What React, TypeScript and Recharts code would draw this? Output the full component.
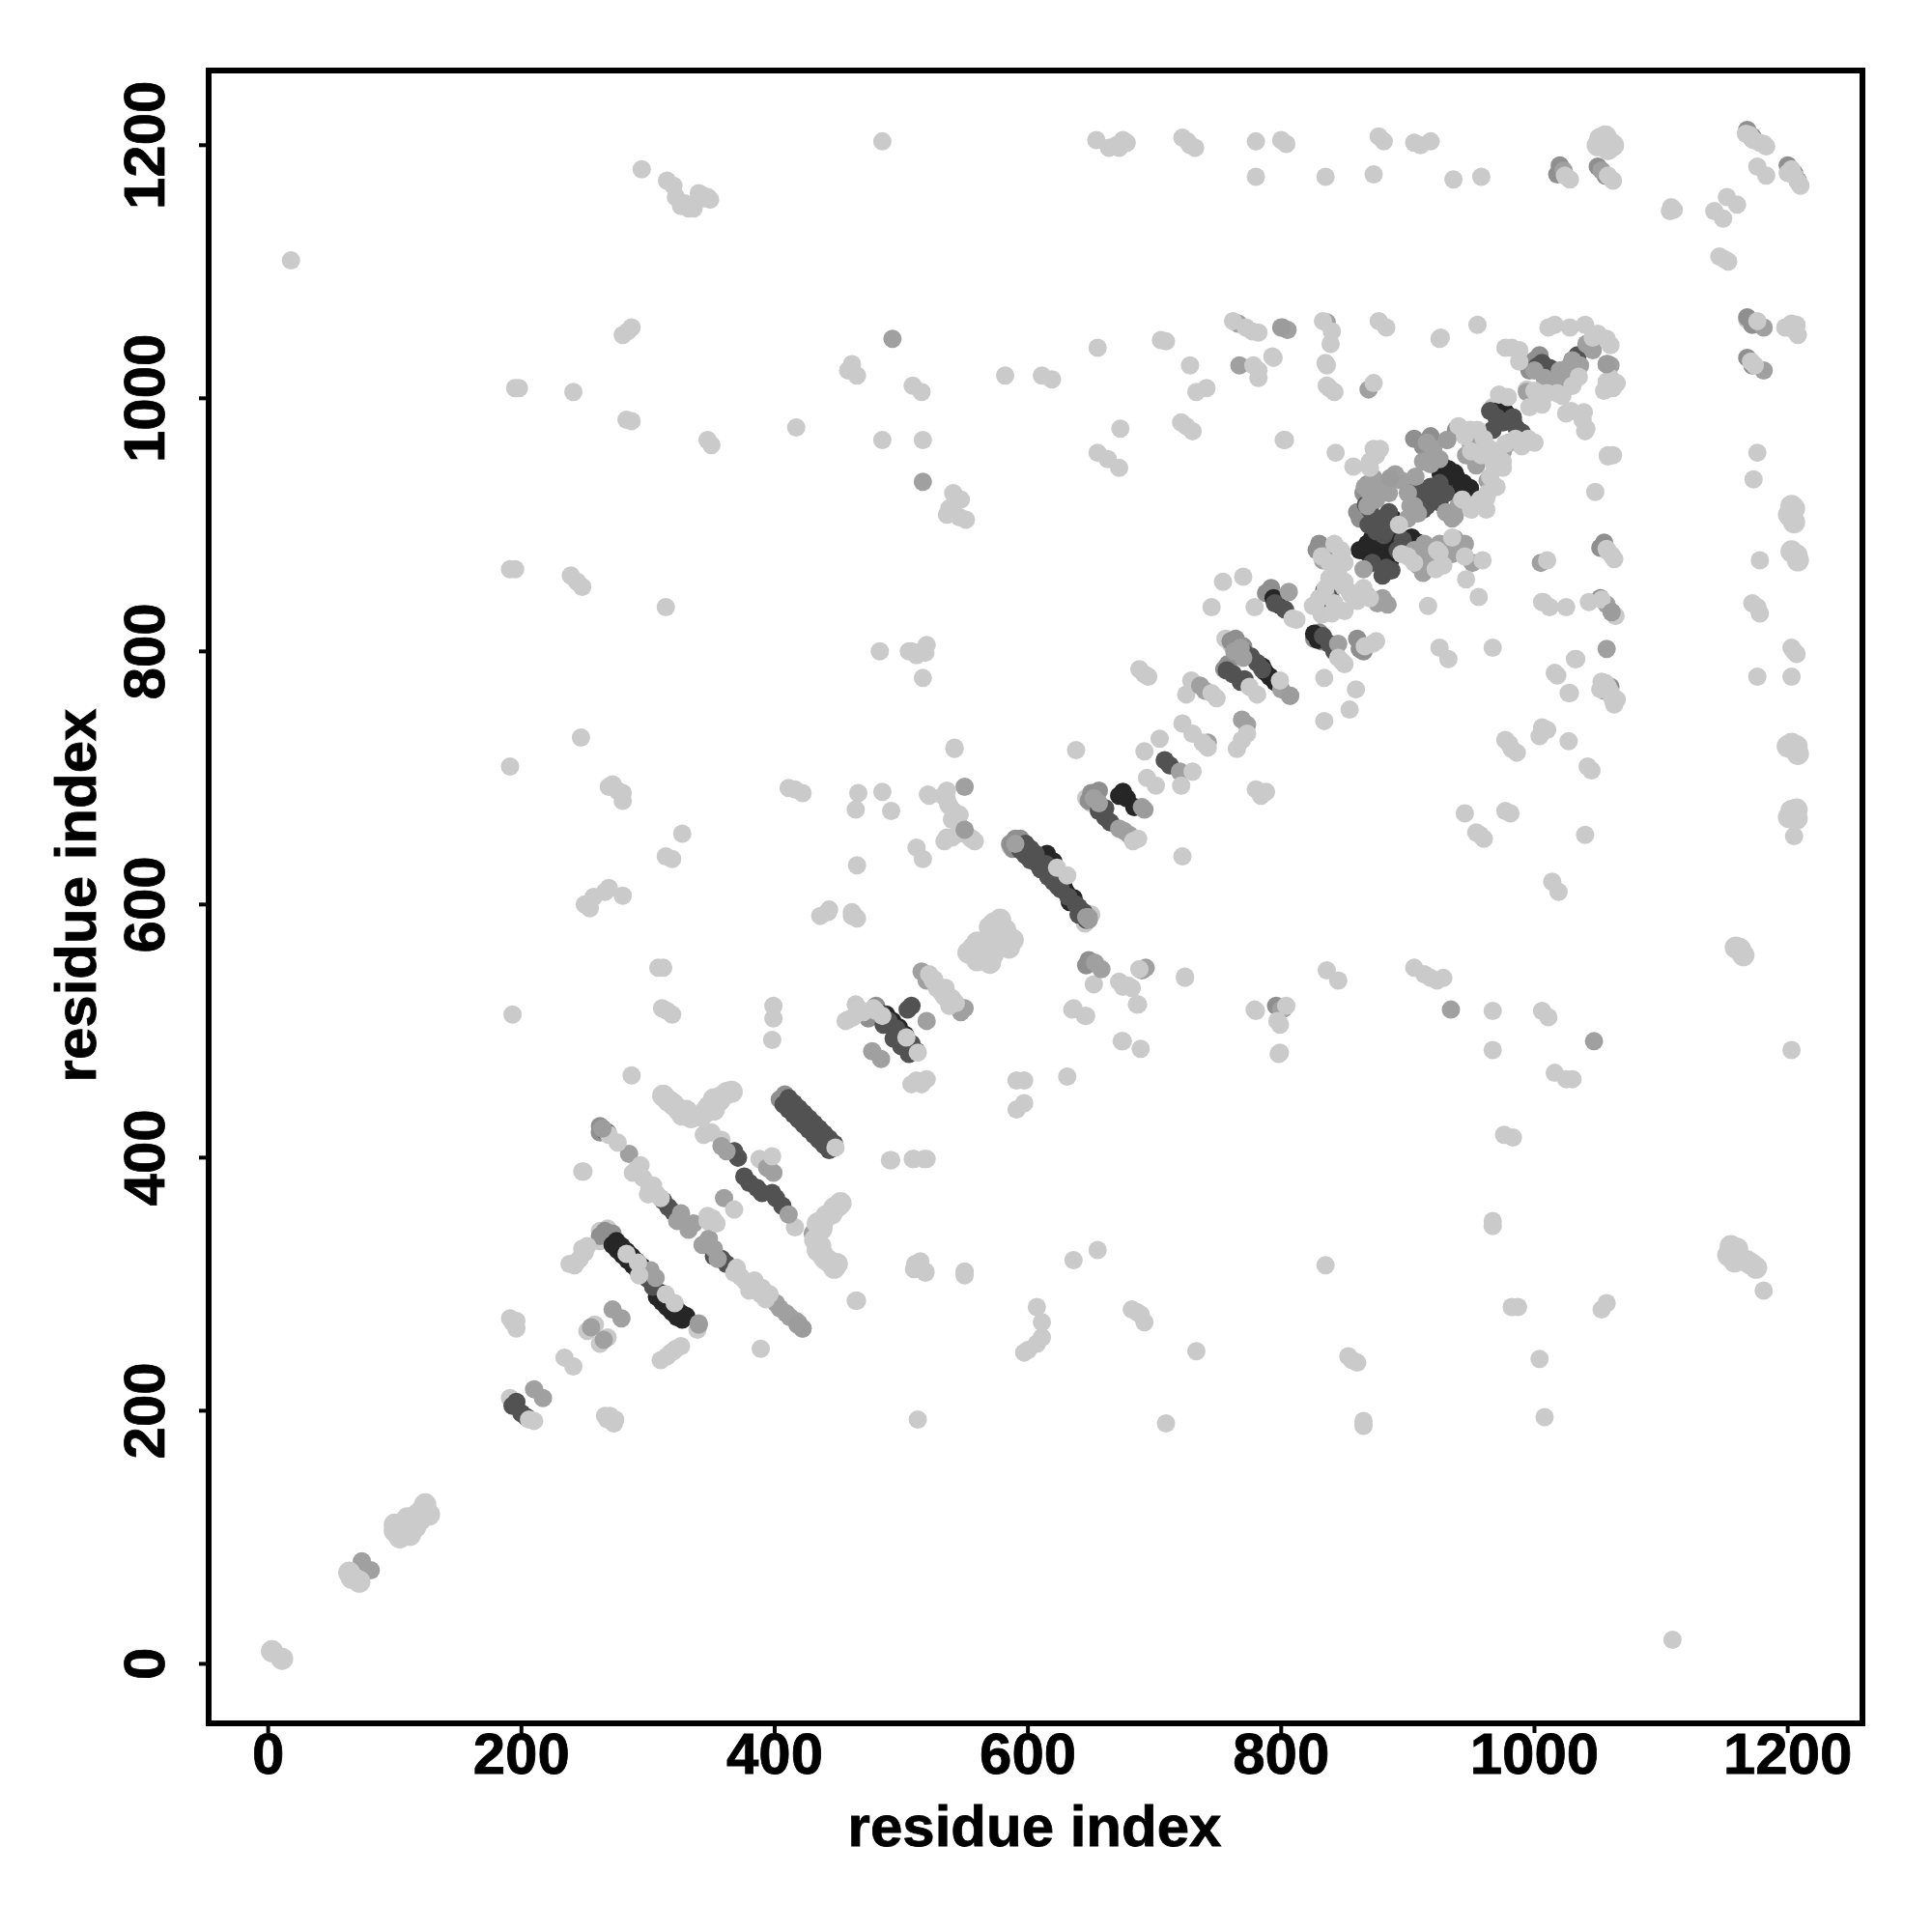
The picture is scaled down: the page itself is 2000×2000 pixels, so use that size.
import React from "react";
import { ScatterChart, Scatter, XAxis, YAxis, ReferenceArea, Label } from "recharts";

const xTicks = [0, 200, 400, 600, 800, 1000, 1200];
const yTicks = [0, 200, 400, 600, 800, 1000, 1200];
const xLow = -47;
const xHigh = 1259;
const yLow = -47;
const yHigh = 1259;

type P = [number, number];

const lightBack: P[] = [
  [262,342],[264,340],[266,340],[250,325],[246,320],[242,315],[344,418],[416,345],[388,399],
  [652,688],[652,537],[536,653],[464,521],[458,509],[994,1007],[967,993],[949,975],[916,959],
  [873,960],[834,880],[844,852],[854,847],[832,829],[725,766],[729,777],[692,721],[704,731],
  [722,743],[764,805],[760,786],[191,210],[516,800],[506,800],[1018,781],[1016,783],
  [252,263],[262,253],[258,268],[268,258],[262,334],[268,344],[350,420],[358,414],
  [590,651],[586,646],[645,585],[650,592],[650,680],[646,684],[756,810],[760,806],[1168,1062],
];

const midBack: P[] = [
  [262,338],[266,342],[272,340],[262,425],[268,420],[262,420],[408,450],[404,446],[648,556],[646,552],
  [590,652],[586,648],[594,652],[588,644],[650,688],[648,682],[656,690],[760,808],[764,810],[770,804],
  [758,790],[755,786],[862,905],[860,910],[865,925],[868,932],[905,968],[912,962],[918,970],[938,975],
  [1000,1030],[996,1022],[1004,1034],[1052,882],[1055,886],[1052,842],[1054,772],[1060,772],[1168,1064],
  [1172,1058],[1168,1032],[1172,1026],[1208,1172],[1020,1184],[1018,1177],[1050,1183],[1056,1176],
  [480,520],[476,516],[474,510],[830,815],[826,810],[832,808],[830,885],[828,880],[792,850],[788,846],
  [1168,1212],[1172,1207],[1200,1184],[1205,1178],[860,810],[862,802],[865,800],[802,518],[796,520],
];

const blackPoints: P[] = [
  [272,331],[275,334],[276,327],[279,330],[280,323],[283,326],[284,319],[287,322],[288,315],[291,318],
  [292,311],[295,314],[307,290],[310,293],[311,286],[314,289],[315,282],[318,285],[319,278],[322,281],
  [323,274],[326,277],[327,272],[330,275],
  [926,940],[929,945],[932,944],[937,941],[938,938],[942,930],[944,933],[947,925],[949,929],[928,932],
  [977,989],[980,985],[974,992],[983,982],[862,880],[868,878],[868,885],[872,880],[872,890],[876,884],
  [880,888],[884,880],[884,882],[886,872],[878,874],[890,892],[888,905],[892,900],[903,890],[908,886],
  [798,837],[794,842],[791,780],[795,776],[787,784],[785,788],[612,636],[615,640],[608,632],[620,634],
  [623,626],[630,610],[636,605],[633,602],[628,615],[675,689],[678,684],[672,686],[684,677],[881,870],
  [875,875],[829,809],[826,814],[275,333],[503,497],[498,503],[493,508],[488,513],
];

const darkPoints: P[] = [
  [407,442],[411,447],[411,438],[415,443],[415,434],[419,439],[419,430],[423,435],[423,426],[427,431],
  [427,422],[431,427],[431,418],[435,423],[435,414],[439,419],[439,410],[443,415],[443,406],[447,411],
  [594,643],[598,648],[598,639],[602,644],[602,635],[606,640],[610,628],[614,632],[616,622],[620,618],
  [624,614],[626,612],[632,606],[638,600],[640,598],[644,594],[640,592],[646,588],
  [296,308],[300,304],[304,298],[266,421],[316,361],[312,366],[320,357],[352,322],[358,320],[362,316],
  [371,400],[368,405],[376,385],[380,380],[386,376],[390,372],[401,368],[406,362],[398,372],
  [656,674],[661,669],[665,665],[661,676],[708,714],[712,710],[781,791],[785,786],[776,796],[770,800],
  [484,514],[490,508],[496,502],[502,496],[508,490],[512,484],[506,482],[500,488],[494,494],[486,505],
  [925,933],[913,923],[918,928],[905,930],[910,920],[918,930],[915,915],[920,925],[925,918],[912,912],
  [930,925],[867,916],[870,912],[883,866],[880,860],[887,864],[872,870],[892,880],[896,888],[913,870],
  [967,975],[965,990],[970,985],[975,981],[978,982],[983,985],[986,976],[990,973],[1002,1025],[1008,1020],
  [1014,1016],[1006,1028],[1012,1024],[1018,1020],[1034,1034],[1030,1030],[837,844],[834,848],[840,840],
  [196,207],[193,204],[204,195],[200,198],[508,520],[505,517],[771,778],[881,892],[895,882],
  [833,812],[838,806],[842,800],[757,785],[762,782],[768,776],[795,838],[803,833],[869,900],[875,895],
  [880,905],[885,910],[888,900],[882,895],[906,880],
];

const midPoints: P[] = [
  [74,81],[81,74],[210,217],[217,210],[255,266],[265,256],[272,280],[279,273],[264,423],[285,403],
  [323,350],[326,356],[332,343],[336,348],[343,331],[348,336],[355,320],[352,328],[401,285],[404,281],
  [409,277],[412,274],[417,271],[422,265],[419,269],[302,311],[340,269],[306,305],
  [360,368],[399,388],[394,392],[358,409],[362,405],[411,355],[430,340],[477,484],[484,478],[520,508],
  [516,547],[520,540],[550,693],[548,660],[549,659],[545,664],[547,515],[544,520],[550,518],[590,648],
  [648,590],[652,684],[656,680],[672,660],[680,655],[676,658],[658,549],[653,554],[693,550],[690,548],
  [720,705],[742,728],[740,769],[736,773],[773,742],[769,746],[800,517],[807,765],[767,1026],[801,1056],
  [805,1054],[766,1059],[836,1060],[869,1007],[1041,1043],[1046,1038],[1058,1027],[1057,1027],[1181,1056],
  [1181,1022],[1053,1180],[1023,1180],[1172,1205],[931,967],[946,955],[954,947],[956,968],[950,963],[906,938],
  [937,907],[908,909],[902,915],[967,931],[963,935],[888,937],[873,937],[880,930],[885,925],[875,920],
  [870,925],[890,940],[895,935],[900,925],[905,915],[900,905],[930,910],[935,905],[940,915],[913,885],
  [937,889],[935,877],[930,875],[940,880],[865,865],[951,870],[806,847],[880,842],[884,837],[868,844],
  [876,838],[845,806],[1057,802],[1055,769],[1061,831],[1005,870],[934,517],[1047,492],[517,934],[493,1047],
  [994,1005],[1030,1030],[1020,1022],[1000,1022],[1008,1016],[1016,1012],[1024,1012],[1028,1010],[1030,1016],
  [1026,1024],[1022,1016],[1012,1012],[915,965],[920,960],[912,950],[918,948],[925,952],[1036,1026],
  [836,876],[833,872],[835,845],[905,880],[915,880],[920,872],[925,885],[945,885],[908,868],[912,862],
  [866,930],[868,915],[975,958],[980,965],[763,800],[768,803],[800,770],[770,795],[1057,837],[1060,1026],
];

const lightFront: P[] = [
  [18,1109],[1109,19],[210,192],[206,193],[191,273],[196,265],[193,270],[196,271],[266,196],[273,190],[268,193],
  [270,196],[274,193],[234,242],[241,235],[249,389],[269,418],[276,412],[291,391],[301,376],[307,371],
  [294,394],[288,388],[296,384],[304,378],[300,371],[310,368],[368,309],[381,299],[389,292],[373,306],
  [377,302],[385,296],[393,288],[370,313],[384,303],[390,297],[396,292],[380,295],
  [283,324],[292,317],[293,307],[314,292],[321,285],[339,264],[287,465],[448,408],[491,398],[509,399],
  [518,399],[513,193],[347,354],[354,348],[347,350],[351,352],[368,359],[398,401],
  [465,287],[513,316],[519,309],[510,312],[515,318],[389,249],[315,243],[320,247],[326,251],[318,246],
  [322,249],[310,240],[252,330],[248,328],[244,318],[238,316],[512,461],[508,458],[520,462],[516,458],
  [483,800],[520,805],[517,779],[542,724],[485,689],[521,687],[492,674],[536,683],[541,674],[555,652],
  [536,690],[533,686],[538,678],[544,668],[546,671],[552,655],[558,650],[534,650],[540,653],[545,656],
  [512,645],[517,636],[465,631],[442,594],[461,594],[464,590],[623,629],[631,623],[530,535],[525,540],[537,528],
  [522,545],[526,541],[528,534],[532,530],[535,534],[540,526],[543,522],[534,527],[538,520],[480,516],
  [513,483],[504,495],[485,512],[478,518],[470,515],[462,511],[456,508],[466,518],[508,800],[512,797],
  [519,799],[679,536],[672,539],[688,549],[675,535],[682,534],[724,543],[686,521],[635,517],[645,512],
  [674,492],[689,486],[779,517],[804,520],[799,505],[799,483],[687,652],[683,650],[694,700],[701,694],
  [730,705],[721,694],[742,724],[730,735],[738,728],[765,723],[773,735],[769,730],[722,638],[638,722],
  [688,786],[692,782],[695,780],[780,691],[788,689],[784,686],[749,763],[745,767],[799,777],[781,766],
  [775,772],[1058,1010],[1035,1017],[1006,995],[1029,990],[1039,989],[1041,976],[1058,955],[1048,926],
  [995,968],[977,964],[972,953],[990,962],[1000,965],[985,968],[940,978],[945,970],[955,975],[960,968],
  [965,960],[950,958],[958,955],[975,950],[968,948],[975,945],[965,938],[970,930],[963,925],[957,920],
  [950,912],[943,920],[962,912],[962,921],[956,916],[893,900],[857,946],[843,957],[803,967],[870,945],
  [875,955],[878,960],[870,950],[895,877],[923,880],[900,875],[905,870],[922,865],[928,868],[935,890],
  [925,878],[945,875],[959,872],[946,857],[956,843],[916,836],[1010,872],[1058,879],[1007,839],[1025,835],
  [1043,839],[1053,841],[1033,794],[1028,767],[1062,762],[1063,758],[1060,768],[1058,772],[1065,762],
  [1056,775],[1052,770],[967,803],[925,803],[932,794],[847,880],[842,885],[848,878],[850,870],[845,865],
  [838,870],[832,875],[838,858],[845,860],[850,855],[835,850],[842,838],[850,832],[860,840],[855,845],
  [865,850],[870,842],[840,830],[830,842],[825,836],[809,826],[812,825],[779,835],[754,855],[770,859],
  [848,792],[845,795],[850,790],[872,806],[866,804],[875,808],[834,779],[859,770],[854,754],[834,745],
  [745,835],[782,1016],[793,1033],[836,1026],[842,1005],[836,1010],[839,1043],[873,1012],[925,1047],
  [977,1040],[988,1038],[988,1029],[982,1040],[972,1003],[979,1001],[996,993],[1025,988],[1038,983],
  [1040,974],[1011,1056],[1016,1058],[1028,1056],[1040,1058],[1050,1051],[1057,1047],[1046,1048],[1060,1042],
  [1030,1010],[1018,1004],[1022,1002],[1010,1004],[1004,1004],[1000,1006],[295,1181],[315,1172],[322,1159],
  [329,1154],[320,1168],[326,1152],[332,1150],[336,1150],[485,1203],[654,1204],[670,1200],[675,1204],
  [664,1198],[672,1198],[678,1202],[726,1203],[722,1206],[728,1200],[732,1198],[780,1203],[800,1204],
  [804,1201],[780,1175],[835,1175],[873,1177],[877,1207],[881,1203],[905,1202],[918,1203],[910,1200],
  [936,1173],[958,1175],[342,1161],[347,1159],[340,1162],[344,1158],[349,1157],[1028,1173],[1024,1176],
  [1062,1172],[1058,1176],[1167,1209],[1173,1204],[1181,1201],[1170,1208],[1178,1202],[1183,1199],[1176,1183],
  [1183,1176],[1203,1181],[1208,1171],[1200,1178],[1205,1176],[1210,1168],[1108,1151],[1107,1148],[1110,1149],
  [1142,1148],[1149,1142],[1152,1159],[1160,1153],[1150,1110],[1146,1112],[1153,1108],[762,1061],[777,1053],
  [772,1056],[782,1052],[782,1022],[778,1026],[794,1032],[833,1061],[840,1053],[835,1028],[838,1008],[877,1061],
  [883,1056],[926,1048],[955,1058],[705,1046],[709,1045],[655,1040],[582,1018],[619,1015],[611,1018],[461,1027],
  [465,1018],[458,1022],[509,1010],[516,1005],[728,1026],[733,1005],[741,1008],[721,981],[730,974],[725,978],
  [673,976],[417,977],[485,967],[517,967],[802,967],[655,957],[663,952],[672,945],[541,925],[538,913],[546,906],
  [551,904],[547,920],[536,908],[347,967],[350,963],[283,983],[287,982],[241,1005],[195,1008],[198,1008],[280,1050],
  [287,1056],[284,1053],[191,865],[195,865],[239,860],[244,855],[248,851],[314,835],[191,709],[247,732],
  [269,693],[276,690],[280,682],[272,695],[280,688],[327,656],[319,636],[314,638],[193,513],[248,389],[254,597],
  [250,600],[257,606],[266,610],[280,607],[269,613],[308,550],[312,550],[311,518],[319,513],[315,516],[399,520],
  [399,510],[398,493],[492,398],[510,399],[520,399],[416,691],[422,688],[411,692],[466,688],[464,675],[522,686],
  [542,723],[537,679],[540,667],[556,652],[436,591],[443,596],[461,591],[465,589],[591,461],[597,461],[591,438],
  [597,443],[631,464],[636,518],[646,512],[675,492],[687,521],[724,542],[655,327],[636,319],[607,282],
  [611,270],[597,246],[607,253],[611,258],[600,248],[682,280],[689,276],[692,270],[686,278],[733,247],[709,190],
  [511,316],[519,310],[550,310],[550,307],[464,287],[835,315],[853,243],[860,238],[856,240],[865,192],[865,188],
  [967,350],[967,346],[982,282],[987,282],[976,418],[983,416],[1004,241],[1008,195],[1053,280],[1057,285],
  [1016,467],[1025,462],[1030,462],[1006,516],[1011,511],[967,516],[967,485],[905,550],[913,545],[923,540],
  [928,542],[918,542],[836,548],[845,540],[780,516],[797,508],[798,482],[1181,295],[1203,485],[1176,1061],
  [1171,1029],[1174,1026],[1203,1059],[1205,1054],[1198,1056],[1208,1050],[1207,1058],[1176,957],[1173,936],
  [1178,872],[1176,835],[1178,830],[1172,838],[1203,803],[1205,800],[1207,798],[1176,780],[1203,780],
  [1205,654],[1057,1013],[1060,1016],[1062,1008],[1055,1006],[1065,1012],[1058,954],[1062,955],
  [1057,881],[1061,876],[1063,873],[1064,828],[1053,776],[1061,764],[1027,767],[1032,794],[1027,729],[1006,740],
  [1004,733],[1010,738],[977,730],[982,723],[980,727],[986,720],[1045,706],[1042,709],[1040,655],[977,674],
  [981,672],[945,672],[954,657],[960,652],[957,655],[1014,618],[1019,610],[1006,839],[1012,835],
];

// the larger pale dots: the diagonal ends, the V-shaped clusters and the isolated blobs
const lightLarge: P[] = [
  [3,10],[11,4],[64,72],[72,65],[105,110],[100,105],[108,103],[112,107],[115,112],[118,118],[122,122],[127,118],
  [110,115],[100,110],[104,100],[112,102],[116,108],[120,114],[124,126],[66,68],
  [312,449],[320,442],[327,434],[316,445],[324,438],[330,437],[334,432],[362,451],[356,445],[348,440],[342,433],
  [352,438],[358,448],[366,452],[345,436],[352,446],
  [450,362],[445,356],[438,350],[434,348],[452,364],[447,360],[441,354],[437,344],[432,335],[434,327],[440,320],
  [447,313],[436,330],[443,318],[449,316],[438,323],
  [573,585],[584,574],[576,578],[557,566],[567,557],[563,560],[570,582],[578,588],[582,580],[588,572],[585,566],
  [575,574],[560,570],[553,562],[560,556],[570,554],[564,566],[572,560],[580,570],
  [1156,326],[1160,321],[1171,316],[1155,330],[1160,328],[1153,323],[1158,318],[1175,313],[1168,318],[1162,565],
  [1163,563],[1159,566],[1165,560],[1052,1205],[1059,1202],[1050,1200],[1056,1207],[1062,1200],[1058,1197],
  [1203,915],[1203,906],[1201,908],[1205,902],[1205,913],[1203,879],[1207,876],[1208,872],[1203,727],[1205,723],
  [1200,725],[1208,719],[1207,725],[1203,674],[1205,672],[1201,669],[1207,668],[1207,675],
];

const capMid: P[] = [
  [340,268],[422,265],[418,268],[646,590],[648,588],[807,765],[1061,831],[886,937],[931,967],[550,659],
  [264,423],[1057,1027],[800,1056],[692,675],[690,677],
];

const toRows = (pts: P[]) => pts.map(([x, y]) => ({ x, y }));

const layers: { name: string; pts: P[]; color: string; r: number }[] = [
  { name: "lightBack", pts: lightBack, color: "#c9c9c9", r: 9.5 },
  { name: "midBack", pts: midBack, color: "#8f8f8f", r: 9.5 },
  { name: "black", pts: blackPoints, color: "#262626", r: 9.5 },
  { name: "dark", pts: darkPoints, color: "#525252", r: 9.5 },
  { name: "mid", pts: midPoints, color: "#a0a0a0", r: 9.5 },
  { name: "light", pts: lightFront, color: "#cacaca", r: 9.5 },
  { name: "lightLarge", pts: lightLarge, color: "#cbcbcb", r: 11.5 },
  { name: "cap", pts: capMid, color: "#9c9c9c", r: 9.5 },
];

const FONT = "'Liberation Sans', Arial, sans-serif";

const XTick = (p: any) => (
  <text x={p.x} y={1836} textAnchor="middle" fontFamily={FONT} fontWeight={700} fontSize={60} fill="#000" stroke="#000" strokeWidth={0.8}>
    {p.payload.value}
  </text>
);

const YTick = (p: any) => (
  <text
    transform={`translate(170 ${p.y}) rotate(-90)`}
    textAnchor="middle"
    fontFamily={FONT}
    fontWeight={700}
    fontSize={60}
    fill="#000"
    stroke="#000"
    strokeWidth={0.8}
  >
    {p.payload.value}
  </text>
);

export default function App() {
  return (
    <div style={{ position: "absolute", left: 0, top: 0, width: 2000, height: 2000, background: "#fff" }}>
      <ScatterChart width={2000} height={2000} margin={{ top: 73, right: 72, bottom: 0, left: 0 }}>
        <XAxis
          type="number"
          dataKey="x"
          domain={[xLow, xHigh]}
          ticks={xTicks}
          height={216}
          tick={<XTick />}
          tickSize={10}
          axisLine={false}
          tickLine={{ stroke: "#000", strokeWidth: 4 }}
          allowDataOverflow
        >
          <Label
            content={() => (
              <text x={1071} y={1911} textAnchor="middle" fontFamily={FONT} fontWeight={700} fontSize={60} fill="#000" stroke="#000" strokeWidth={0.8}>
                residue index
              </text>
            )}
          />
        </XAxis>
        <YAxis
          type="number"
          dataKey="y"
          domain={[yLow, yHigh]}
          ticks={yTicks}
          width={216}
          tick={<YTick />}
          tickSize={10}
          axisLine={false}
          tickLine={{ stroke: "#000", strokeWidth: 4 }}
          allowDataOverflow
        >
          <Label
            content={() => (
              <text
                transform="translate(99 927) rotate(-90)"
                textAnchor="middle"
                fontFamily={FONT}
                fontWeight={700}
                fontSize={60}
                fill="#000"
                stroke="#000"
                strokeWidth={0.8}
              >
                residue index
              </text>
            )}
          />
        </YAxis>
        {layers.map((l) => (
          <Scatter
            key={l.name}
            name={l.name}
            data={toRows(l.pts)}
            isAnimationActive={false}
            shape={(p: any) => <circle cx={p.cx} cy={p.cy} r={l.r} fill={l.color} />}
          />
        ))}
        <ReferenceArea x1={xLow} x2={xHigh} y1={yLow} y2={yHigh} fill="none" stroke="#000" strokeWidth={6} fillOpacity={0} />
      </ScatterChart>
    </div>
  );
}
